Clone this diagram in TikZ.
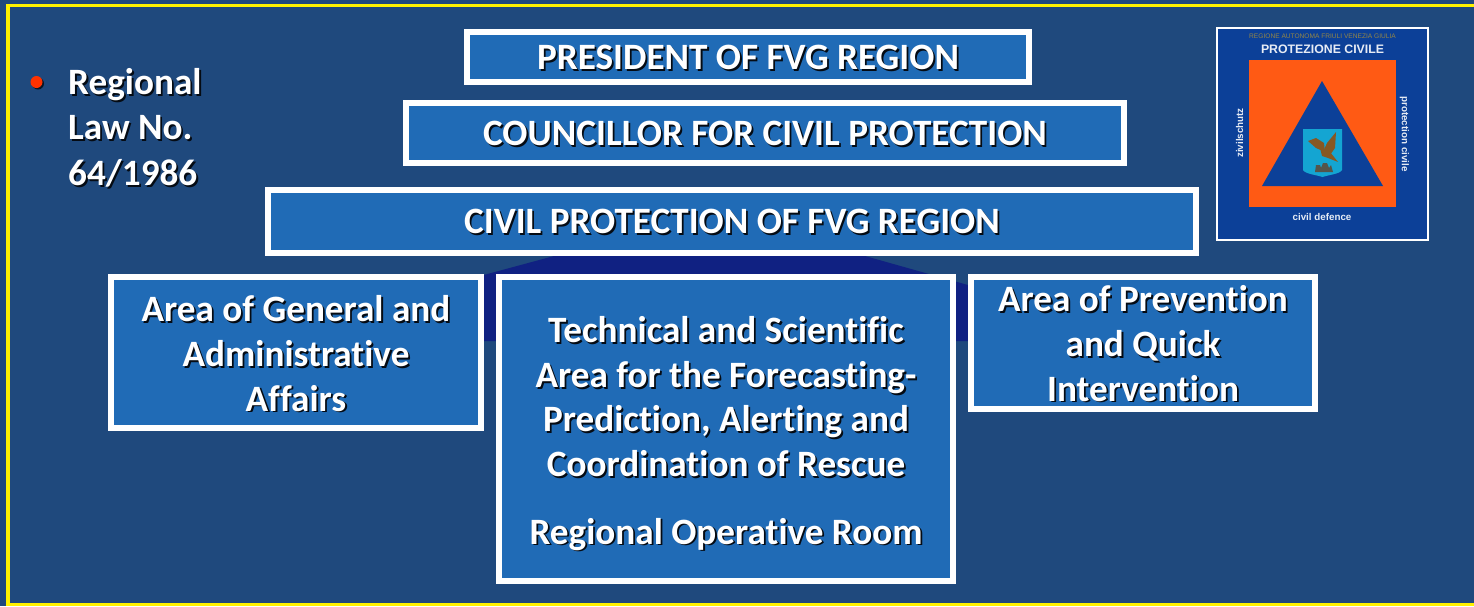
\documentclass[tikz,border=0pt]{standalone}
\usepackage{fontspec}
\setmainfont[Ligatures=CommonOff]{Carlito}
\newfontfamily\logofont{Liberation Sans}
\definecolor{bgblue}{RGB}{31,73,125}
\definecolor{boxblue}{RGB}{32,107,182}
\definecolor{darkband}{RGB}{16,33,130}
\definecolor{logoblue}{RGB}{12,64,152}
\definecolor{logoorange}{RGB}{255,90,20}
\definecolor{bulletred}{RGB}{255,50,0}
\definecolor{shieldblue}{RGB}{20,165,210}
\definecolor{eaglebrown}{RGB}{135,88,35}
\definecolor{towergrey}{RGB}{85,85,75}
\definecolor{logoolive}{RGB}{150,135,70}
\newcommand{\shd}[1]{\leavevmode\rlap{\kern1.8pt\raisebox{-1.8pt}{\color{black!85!bgblue}#1}}#1}
\newcommand{\toppad}[1]{\rule{0pt}{#1pt}}
\tikzset{
  x=1pt,y=-1pt,
  orgbox/.style={draw=white,line width=6pt,fill=boxblue,inner sep=0pt,text=white,font=\fontsize{37.2}{44.6}\selectfont\bfseries,align=center,anchor=north west},
  lawtext/.style={text=white,font=\fontsize{37.2}{45.5}\selectfont\bfseries,align=left,anchor=north west,inner sep=0pt},
  logotext/.style={text=white!90!logoblue,inner sep=0pt},
  logoside/.style={logotext,font=\logofont\bfseries\fontsize{9.8}{11}\selectfont}
}
\begin{document}
\begin{tikzpicture}
\useasboundingbox (0,0) rectangle (1474,606);
\fill[bgblue] (0,0) rectangle (1474,606);
\draw[yellow,line width=3.5pt] (1474,5.5) -- (8,5.5) -- (8,604.5) -- (1474,604.5);
\fill[darkband] (554,256) -- (865,256) -- (975,287) -- (975,341) -- (480,341) -- (480,276) -- cycle;
% boxes
\node[orgbox,minimum width=562pt,minimum height=50pt] (pres) at (464,29) {\toppad{27}\shd{PRESIDENT OF FVG REGION}};
\node[orgbox,minimum width=718pt,minimum height=60pt] (coun) at (403,100) {\toppad{27}\shd{COUNCILLOR FOR CIVIL PROTECTION}};
\node[orgbox,minimum width=928pt,minimum height=63pt] (civil) at (265,187) {\toppad{27}\shd{CIVIL PROTECTION OF FVG REGION}};
\node[orgbox,minimum width=370pt,minimum height=151pt] (gen) at (108,274) {\toppad{30}\shd{Area of General and}\\\shd{Administrative}\\\shd{Affairs}};
\node[orgbox,minimum width=454pt,minimum height=304pt] (tech) at (496,274) {\toppad{37}\shd{Technical and Scientific}\\\shd{Area for the Forecasting-}\\\shd{Prediction, Alerting and}\\\shd{Coordination of Rescue}\\[23pt]\shd{Regional Operative Room}};
\node[orgbox,minimum width=344pt,minimum height=132pt] (prev) at (968,274) {\toppad{29}\shd{Area of Prevention}\\\shd{and Quick}\\\shd{Intervention}};
% law
\fill[black!70!bgblue] (38,83.5) circle (6);
\fill[bulletred] (36.5,82) circle (6);
\node[lawtext] (law) at (68,68) {\shd{Regional}\\\shd{Law No.}\\\shd{64/1986}};
% logo
\draw[white,line width=2pt,fill=logoblue] (1217,28) rectangle (1428,240);
\fill[logoorange] (1249,60) rectangle (1396,207);
\fill[logoblue] (1322,81) -- (1383,186) -- (1262,186) -- cycle;
\fill[shieldblue] (1303,129) -- (1342,129) -- (1342,170) .. controls (1340,174) and (1328,175) .. (1322.5,177) .. controls (1317,175) and (1305,174) .. (1303,170) -- cycle;
\fill[eaglebrown] (1336,132) -- (1335,148) -- (1330,155) -- (1323,152) -- (1327,143) -- cycle;
\fill[eaglebrown] (1308,141) -- (1316,138) -- (1324,143) -- (1325,152) -- (1316,148) -- cycle;
\fill[eaglebrown] (1320,148) -- (1330,152) -- (1338,162) -- (1328,158) -- (1322,156) -- cycle;
\fill[towergrey] (1315,172) -- (1316,165) -- (1320,165) -- (1321,168) -- (1323,163) -- (1327,163) -- (1329,168) -- (1331,165) -- (1333,172) -- cycle;
\node[logotext,text=logoolive,font=\logofont\fontsize{6.6}{8}\selectfont] (lt1) at (1322.5,36) {REGIONE AUTONOMA FRIULI VENEZIA GIULIA};
\node[logotext,font=\logofont\bfseries\fontsize{12.3}{14}\selectfont] (lt2) at (1322.5,49) {PROTEZIONE CIVILE};
\node[logoside,rotate=90] (lt3) at (1239.5,133) {zivilschutz};
\node[logoside,rotate=-90] (lt4) at (1404.5,134) {protection civile};
\node[logoside] (lt5) at (1322,217) {civil defence};
\end{tikzpicture}
\end{document}
